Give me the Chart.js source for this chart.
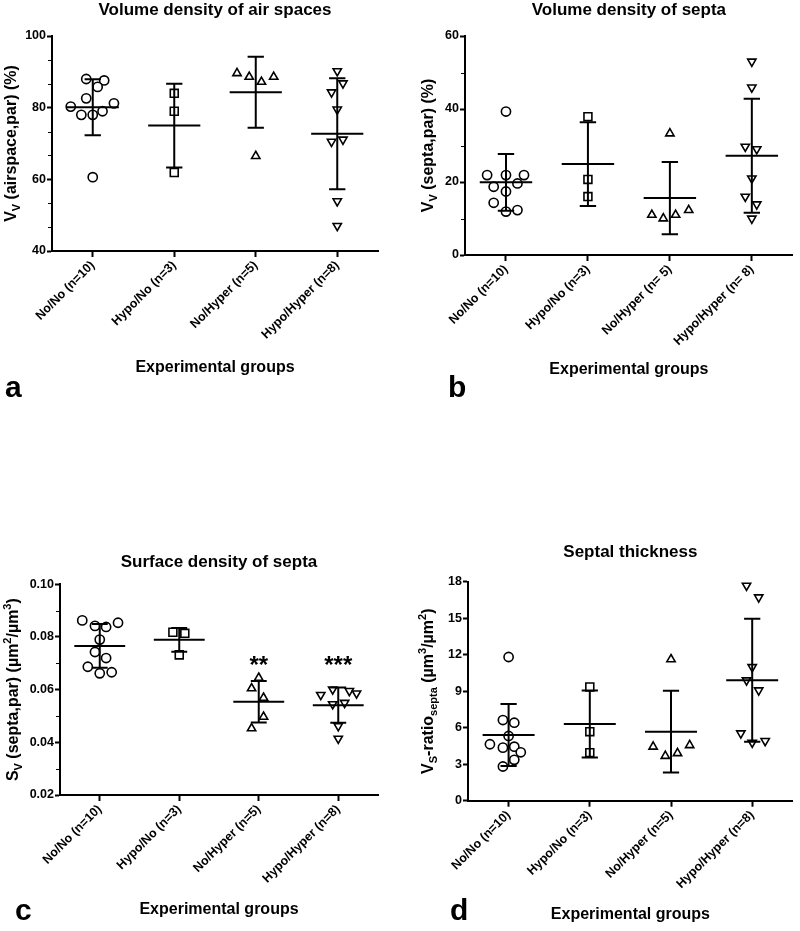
<!DOCTYPE html>
<html>
<head>
<meta charset="utf-8">
<script src="https://cdn.jsdelivr.net/npm/chart.js@4/dist/chart.umd.min.js"></script>
<style>
  body { margin: 0; background: #fff; }
  #wrap { position: relative; width: 800px; height: 931px; }
  canvas { position: absolute; }
</style>
</head>
<body>
<div id="wrap">
  <canvas id="chartA" width="400" height="440" style="left:0;top:0"></canvas>
  <canvas id="chartB" width="400" height="440" style="left:400px;top:0"></canvas>
  <canvas id="chartC" width="400" height="491" style="left:0;top:440px"></canvas>
  <canvas id="chartD" width="400" height="491" style="left:400px;top:440px"></canvas>
</div>
<script>
const groupLabels = ["No/No (n=10)", "Hypo/No (n=3)", "No/Hyper (n=5)", "Hypo/Hyper (n=8)"];
const groupLabelsB = ["No/No (n=10)", "Hypo/No (n=3)", "No/Hyper (n= 5)", "Hypo/Hyper (n= 8)"];

// a: volume density of air spaces (%)
const airValues = [
  [88.0, 87.6, 85.8, 82.6, 80.3, 81.2, 78.0, 78.0, 79.0, 60.6],
  [84.0, 79.0, 61.9],
  [89.6, 88.6, 87.2, 88.6, 66.5],
  [90.2, 86.8, 84.3, 79.5, 70.5, 71.1, 53.9, 47.0]
];
const airJitter = [
  [-0.08, 0.14, 0.06, -0.08, -0.27, 0.26, -0.14, 0, 0.12, 0],
  [0, 0, 0],
  [-0.23, -0.08, 0.07, 0.22, 0],
  [0, 0.07, -0.07, 0, -0.07, 0.07, 0, 0]
];
const airMean = [80.1, 75.0, 84.3, 72.7];
const airSd = [7.8, 11.7, 9.9, 15.5];
const airTicks = [40, 60, 80, 100];
const airTickLabels = ["40", "60", "80", "100"];
const airMinor = [46.67, 53.33, 66.67, 73.33, 86.67, 93.33];

// b: volume density of septa (%)
const septaValues = [
  [39.3, 21.9, 21.9, 21.9, 18.7, 19.6, 17.4, 14.3, 11.9, 12.3],
  [37.9, 20.7, 16.0],
  [33.3, 11.0, 10.0, 11.0, 12.3],
  [53.0, 45.9, 29.7, 29.0, 21.0, 16.0, 13.9, 10.0]
];
const septaJitter = [
  [0, -0.23, 0, 0.22, -0.15, 0.14, 0, -0.15, 0, 0.14],
  [0, 0, 0],
  [0, -0.22, -0.08, 0.07, 0.23],
  [0, 0, -0.08, 0.06, 0, -0.08, 0.06, 0]
];
const septaMean = [19.9, 24.9, 15.6, 27.2];
const septaSd = [7.8, 11.5, 9.9, 15.6];
const septaTicks = [0, 20, 40, 60];
const septaTickLabels = ["0", "20", "40", "60"];
const septaMinor = [10, 30, 50];

// c: surface density of septa (µm²/µm³)
const surfValues = [
  [0.0863, 0.0842, 0.0838, 0.0854, 0.0790, 0.0743, 0.0720, 0.0687, 0.0662, 0.0666],
  [0.0818, 0.0814, 0.0732],
  [0.0645, 0.0605, 0.0569, 0.0497, 0.0453],
  [0.0580, 0.0601, 0.0545, 0.0550, 0.0595, 0.0586, 0.0462, 0.0414]
];
const surfJitter = [
  [-0.22, -0.06, 0.08, 0.23, 0, -0.06, 0.08, -0.15, 0, 0.15],
  [-0.08, 0.07, 0],
  [0, -0.09, 0.06, 0.06, -0.09],
  [-0.22, -0.07, -0.07, 0.08, 0.14, 0.23, 0, 0]
];
const surfMean = [0.0766, 0.0789, 0.0554, 0.0541];
const surfSd = [0.0083, 0.0045, 0.0079, 0.0067];
const surfTicks = [0.02, 0.04, 0.06, 0.08, 0.10];
const surfTickLabels = ["0.02", "0.04", "0.06", "0.08", "0.10"];
const surfMinor = [0.03, 0.05, 0.07, 0.09];
const surfSig = ["", "", "**", "***"];
const surfSigLevel = 0.0708;

// d: septal thickness (µm³/µm²)
const thickValues = [
  [11.81, 6.63, 6.41, 5.32, 4.64, 4.36, 4.44, 3.98, 3.36, 2.81],
  [9.35, 5.67, 3.95],
  [11.62, 4.44, 3.68, 3.90, 4.56],
  [17.68, 16.72, 10.99, 9.90, 9.08, 5.54, 4.77, 4.91]
];
const thickJitter = [
  [0, -0.07, 0.07, 0, -0.23, -0.07, 0.07, 0.15, 0.07, -0.07],
  [0, 0, 0],
  [0, -0.22, -0.07, 0.08, 0.23],
  [-0.07, 0.08, 0, -0.07, 0.08, -0.14, 0, 0.16]
];
const thickMean = [5.40, 6.30, 5.67, 9.90];
const thickSd = [2.55, 2.75, 3.36, 5.05];
const thickTicks = [0, 3, 6, 9, 12, 15, 18];
const thickTickLabels = ["0", "3", "6", "9", "12", "15", "18"];

const FONT = '"Liberation Sans", Arial, sans-serif';
Chart.defaults.font.family = FONT;
Chart.defaults.font.weight = "bold";
Chart.defaults.color = "#000";

const markers = [
  { style: "circle", radius: 4.6, rotation: 0 },
  { style: "rect", radius: 5.6, rotation: 0 },
  { style: "triangle", radius: 4.8, rotation: 0 },
  { style: "triangle", radius: 4.8, rotation: 180 }
];

// minor ticks, rich y title, panel letter, significance stars
const panelExtras = {
  id: "panelExtras",
  afterDraw(chart, args, opts) {
    const { ctx, chartArea, scales } = chart;
    ctx.save();
    ctx.strokeStyle = "#000";
    ctx.lineWidth = 1;
    (opts.minor || []).forEach((v) => {
      const py = Math.round(scales.y.getPixelForValue(v)) + 0.5;
      ctx.beginPath();
      ctx.moveTo(chartArea.left - 4, py);
      ctx.lineTo(chartArea.left, py);
      ctx.stroke();
    });

    ctx.fillStyle = "#000";
    ctx.textBaseline = "alphabetic";
    ctx.textAlign = "center";
    ctx.font = "bold 24px " + FONT;
    (opts.sig || []).forEach((s, i) => {
      if (!s) return;
      ctx.fillText(s, scales.x.getPixelForValue(i), scales.y.getPixelForValue(opts.sigLevel) + 12);
    });

    ctx.textAlign = "left";
    ctx.font = "bold 30px " + FONT;
    ctx.fillText(opts.letter, opts.letterX, opts.letterY);

    ctx.translate(opts.titleX, (chartArea.top + chartArea.bottom) / 2);
    ctx.rotate(-Math.PI / 2);
    let total = 0;
    opts.yTitle.forEach((p) => {
      ctx.font = (p[1] ? "bold 11px " : "bold 16px ") + FONT;
      total += ctx.measureText(p[0]).width;
    });
    let cx = -total / 2;
    opts.yTitle.forEach((p) => {
      ctx.font = (p[1] ? "bold 11px " : "bold 16px ") + FONT;
      let dy = 5.7;
      if (p[1] === "sub") dy += 4;
      if (p[1] === "sup") dy -= 7;
      ctx.fillText(p[0], cx, dy);
      cx += ctx.measureText(p[0]).width;
    });
    ctx.restore();
  }
};

function makePanel(id, p) {
  const segs = [];
  p.mean.forEach((m, g) => {
    const s = p.sd[g];
    segs.push(
      { x: g - 0.32, y: m }, { x: g + 0.32, y: m }, { x: g, y: null },
      { x: g, y: m - s }, { x: g, y: m + s }, { x: g, y: null },
      { x: g - 0.1, y: m + s }, { x: g + 0.1, y: m + s }, { x: g, y: null },
      { x: g - 0.1, y: m - s }, { x: g + 0.1, y: m - s }, { x: g, y: null }
    );
  });
  const datasets = [{
    data: segs, showLine: true, spanGaps: false, borderColor: "#000",
    borderWidth: 2, pointRadius: 0, order: 0
  }];
  p.values.forEach((vals, g) => {
    const mk = markers[g];
    datasets.push({
      data: vals.map((v, k) => ({ x: g + p.jitter[g][k], y: v })),
      pointStyle: mk.style,
      pointRadius: mk.radius,
      pointRotation: mk.rotation,
      pointBackgroundColor: "#fff",
      pointBorderColor: "#000",
      pointBorderWidth: 1.6,
      order: 1
    });
  });

  new Chart(document.getElementById(id), {
    type: "scatter",
    data: { datasets },
    options: {
      responsive: false,
      animation: false,
      devicePixelRatio: 1,
      layout: { padding: { top: p.padTop, right: p.padRight, bottom: 0, left: 0 } },
      plugins: {
        legend: { display: false },
        tooltip: { enabled: false },
        title: {
          display: true, text: p.title, fullSize: false, color: "#000",
          font: { size: 17, weight: "bold" },
          padding: { top: 0, bottom: p.titleGap }
        },
        panelExtras: {
          minor: p.minor, yTitle: p.yTitle, titleX: p.titleX,
          letter: p.letter, letterX: p.letterX, letterY: p.letterY,
          sig: p.sig, sigLevel: p.sigLevel
        }
      },
      scales: {
        x: {
          type: "linear", min: -0.5, max: 3.5,
          afterBuildTicks: (s) => { s.ticks = p.labels.map((l, i) => ({ value: i })); },
          afterFit: (s) => { s.height = p.xHeight; },
          ticks: {
            autoSkip: false, minRotation: 45, maxRotation: 45, padding: 1, color: "#000",
            font: { size: 12.5, weight: "bold" },
            callback: (v) => p.labels[v]
          },
          grid: { drawOnChartArea: false, drawTicks: true, tickLength: 6, tickWidth: 2, tickColor: "#000" },
          border: { display: true, color: "#000", width: 2 },
          title: {
            display: true, text: "Experimental groups", color: "#000",
            font: { size: 16, weight: "bold" },
            padding: { top: 0, bottom: p.xTitlePad }
          }
        },
        y: {
          min: p.min, max: p.max,
          afterBuildTicks: (s) => { s.ticks = p.ticks.map((v) => ({ value: v })); },
          afterFit: (s) => { s.width = p.yWidth; },
          ticks: {
            padding: 1, color: "#000", font: { size: 12.5, weight: "bold" },
            callback: (v, i) => p.tickLabels[i]
          },
          grid: { drawOnChartArea: false, drawTicks: true, tickLength: 5, tickWidth: 2, tickColor: "#000" },
          border: { display: true, color: "#000", width: 2 }
        }
      }
    },
    plugins: [panelExtras]
  });
}

makePanel("chartA", {
  title: "Volume density of air spaces", labels: groupLabels,
  values: airValues, jitter: airJitter, mean: airMean, sd: airSd,
  min: 40, max: 100, ticks: airTicks, tickLabels: airTickLabels, minor: airMinor,
  yTitle: [["V", ""], ["V", "sub"], [" (airspace,par) (%)", ""]],
  letter: "a", letterX: 5, letterY: 397, titleX: 10,
  padTop: 0, padRight: 22, titleGap: 15.6, yWidth: 52, xHeight: 189, xTitlePad: 62.4
});

makePanel("chartB", {
  title: "Volume density of septa", labels: groupLabelsB,
  values: septaValues, jitter: septaJitter, mean: septaMean, sd: septaSd,
  min: 0, max: 60, ticks: septaTicks, tickLabels: septaTickLabels, minor: septaMinor,
  yTitle: [["V", ""], ["V", "sub"], [" (septa,par) (%)", ""]],
  letter: "b", letterX: 48, letterY: 397, titleX: 27.5,
  padTop: 0, padRight: 7, titleGap: 15.6, yWidth: 65, xHeight: 185, xTitlePad: 60.4
});

makePanel("chartC", {
  title: "Surface density of septa", labels: groupLabels,
  values: surfValues, jitter: surfJitter, mean: surfMean, sd: surfSd,
  min: 0.02, max: 0.10, ticks: surfTicks, tickLabels: surfTickLabels, minor: surfMinor,
  sig: surfSig, sigLevel: surfSigLevel,
  yTitle: [["S", ""], ["V", "sub"], [" (septa,par) (\u00b5m", ""], ["2", "sup"], ["/\u00b5m", ""], ["3", "sup"], [")", ""]],
  letter: "c", letterX: 15, letterY: 480, titleX: 12,
  padTop: 112.5, padRight: 22, titleGap: 11.4, yWidth: 60, xHeight: 136, xTitlePad: 12.1
});

makePanel("chartD", {
  title: "Septal thickness", labels: groupLabels,
  values: thickValues, jitter: thickJitter, mean: thickMean, sd: thickSd,
  min: 0, max: 18, ticks: thickTicks, tickLabels: thickTickLabels, minor: [],
  yTitle: [["V", ""], ["S", "sub"], ["-ratio", ""], ["septa", "sub"], [" (\u00b5m", ""], ["3", "sup"], ["/\u00b5m", ""], ["2", "sup"], [")", ""]],
  letter: "d", letterX: 50, letterY: 480, titleX: 27.5,
  padTop: 102.5, padRight: 3, titleGap: 18.8, yWidth: 68, xHeight: 130.3, xTitlePad: 6.4
});
</script>
</body>
</html>
